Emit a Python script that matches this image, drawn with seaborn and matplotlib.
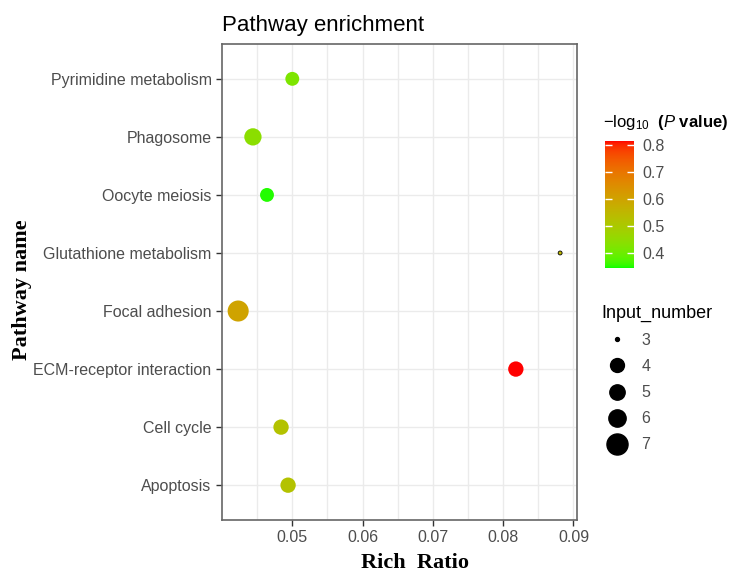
import numpy as np
import matplotlib
matplotlib.use("Agg")
import matplotlib.pyplot as plt
import seaborn as sns
import pandas as pd
from matplotlib.colors import ListedColormap, Normalize
from matplotlib.lines import Line2D

# data
pathways = ["Pyrimidine metabolism", "Phagosome", "Oocyte meiosis",
            "Glutathione metabolism", "Focal adhesion", "ECM-receptor interaction",
            "Cell cycle", "Apoptosis"]
rich_ratio = [0.0500, 0.0444, 0.0464, 0.0881, 0.0423, 0.0818, 0.0484, 0.0494]
neg_log_p = [0.42, 0.44, 0.35, 0.55, 0.60, 0.815, 0.52, 0.52]
input_number = [4, 6, 4, 3, 7, 5, 5, 5]

size_levels = [3, 4, 5, 6, 7]
size_areas = {3: 8, 4: 100, 5: 122, 6: 155, 7: 230}


def srgb_to_lab(rgb):
    c = np.asarray(rgb, float)
    lin = np.where(c <= 0.04045, c / 12.92, ((c + 0.055) / 1.055) ** 2.4)
    m = np.array([[0.4124, 0.3576, 0.1805],
                  [0.2126, 0.7152, 0.0722],
                  [0.0193, 0.1192, 0.9505]])
    xyz = m @ lin / np.array([0.95047, 1.0, 1.08883])
    f = np.where(xyz > 0.008856, np.cbrt(xyz), 7.787 * xyz + 16 / 116)
    return np.array([116 * f[1] - 16, 500 * (f[0] - f[1]), 200 * (f[1] - f[2])])


def lab_to_srgb(lab):
    L, a, b = lab
    fy = (L + 16) / 116
    fx = fy + a / 500
    fz = fy - b / 200
    f = np.array([fx, fy, fz])
    xyz = np.where(f ** 3 > 0.008856, f ** 3, (f - 16 / 116) / 7.787)
    xyz = xyz * np.array([0.95047, 1.0, 1.08883])
    minv = np.array([[3.2406, -1.5372, -0.4986],
                     [-0.9689, 1.8758, 0.0415],
                     [0.0557, -0.2040, 1.0570]])
    lin = np.clip(minv @ xyz, 0, 1)
    c = np.where(lin <= 0.0031308, 12.92 * lin, 1.055 * lin ** (1 / 2.4) - 0.055)
    return np.clip(c, 0, 1)


# green -> red ramp interpolated in Lab, like ggplot's gradient
lo, hi = srgb_to_lab([0, 1, 0]), srgb_to_lab([1, 0, 0])
cmap = ListedColormap([lab_to_srgb(lo + t * (hi - lo)) for t in np.linspace(0, 1, 256)])
norm = Normalize(vmin=0.344, vmax=0.816)

df = pd.DataFrame({"Pathway": pathways, "RichRatio": rich_ratio,
                   "logp": neg_log_p, "Input_number": input_number})

plt.rcParams["font.family"] = ["Liberation Sans", "DejaVu Sans"]
plt.rcParams["mathtext.fontset"] = "custom"
plt.rcParams["mathtext.rm"] = "Liberation Sans"
plt.rcParams["mathtext.bf"] = "Liberation Sans:bold"
plt.rcParams["mathtext.it"] = "Liberation Sans:italic"

fig = plt.figure(figsize=(7.34, 5.74), dpi=100)
ax = fig.add_axes([222 / 734, 54 / 574, 355 / 734, 476 / 574])

edges = ["black" if n == 3 else "none" for n in input_number]
sns.scatterplot(data=df, x="RichRatio", y="Pathway", hue="logp", hue_norm=norm,
                palette=cmap, size="Input_number", sizes=size_areas,
                legend=False, ax=ax, edgecolor=edges, linewidth=0.6, zorder=3)

ax.set_xlim(0.0400, 0.0905)
ax.set_ylim(7.6, -0.6)
ax.set_xticks([0.05, 0.06, 0.07, 0.08, 0.09])
ax.set_xticklabels(["0.05", "0.06", "0.07", "0.08", "0.09"])
ax.set_xticks(np.arange(0.045, 0.0901, 0.01), minor=True)
ax.set_yticks(range(len(pathways)))
ax.set_yticklabels(pathways)
ax.grid(True, which="both", color="#EBEBEB", linewidth=1, zorder=0)
ax.set_axisbelow(True)
ax.tick_params(axis="both", which="major", labelsize=11.5, labelcolor="#4D4D4D",
               color="#333333", length=4, width=1)
ax.tick_params(axis="x", which="minor", length=0)
for s in ax.spines.values():
    s.set_color("#666666")
    s.set_linewidth(1.2)
ax.set_xlabel("")
ax.set_ylabel("")

fig.text(222 / 734, 1 - 26 / 574, "Pathway enrichment", fontsize=16, va="center", ha="left")
fig.text(415 / 734, 1 - 563 / 574, "Rich  Ratio", fontsize=16, fontweight="bold",
         family="Liberation Serif", ha="center", va="center")
fig.text(22 / 734, 1 - 290 / 574, "Pathway name", fontsize=16, fontweight="bold",
         family="Liberation Serif", ha="center", va="center", rotation=90)

# colour bar
cax = fig.add_axes([605 / 734, 1 - 268.3 / 574, 29 / 734, 127.6 / 574])
sm = plt.cm.ScalarMappable(cmap=cmap, norm=norm)
cb = fig.colorbar(sm, cax=cax, ticks=[0.4, 0.5, 0.6, 0.7, 0.8])
cb.outline.set_visible(False)
cax.yaxis.set_ticks_position("both")
cax.tick_params(direction="in", color="white", length=5, width=1,
                labelsize=11.5, labelcolor="#4D4D4D", pad=6)
fig.text(603 / 734, 1 - 123 / 574,
         r"$-\mathrm{log}_{10}$  $\mathbf{(}\mathit{P}\mathbf{\ value)}$",
         fontsize=12, ha="left", va="center")

# size legend
handles = [Line2D([], [], marker="o", linestyle="none", color="black",
                  markersize=np.sqrt(size_areas[n])) for n in size_levels]
leg = fig.legend(handles, [str(n) for n in size_levels], title="Input_number",
                 loc="upper left", bbox_to_anchor=(587 / 734, 1 - 290 / 574),
                 frameon=False, fontsize=11.5, title_fontsize=13,
                 labelspacing=0.7, handletextpad=0.5, alignment="left")
for t in leg.get_texts():
    t.set_color("#4D4D4D")

fig.savefig("out.png", dpi=100)
